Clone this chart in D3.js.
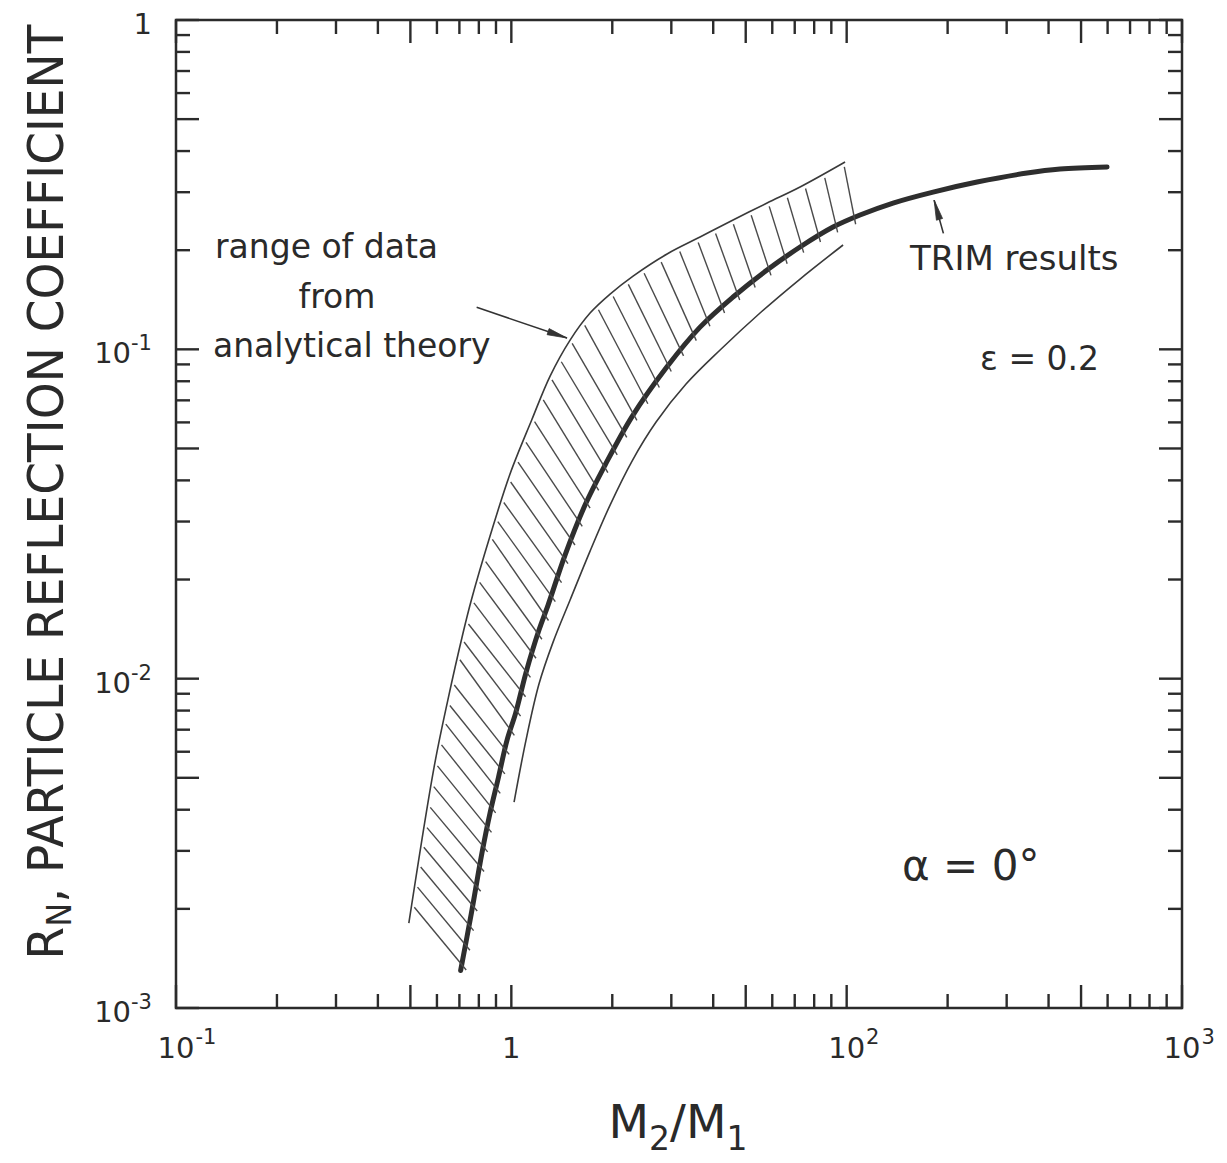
<!DOCTYPE html>
<html>
<head>
<meta charset="utf-8">
<script src="https://cdn.jsdelivr.net/npm/d3@7"></script>
<style>
  body { margin: 0; background: #fff; }
  text { fill: #2a2a2a; }
</style>
</head>
<body>
<svg id="chart" width="1227" height="1163"></svg>
<script>
// TRIM results, M2/M1 vs R_N (thick curve)
const trimX = [0.706, 0.760, 0.817, 0.864, 0.916, 0.971, 1.030, 1.105, 1.209, 1.287, 1.446, 1.659, 1.904,
  2.286, 2.908, 3.654, 4.584, 5.789, 7.261, 9.107, 10.96, 13.75, 18.10, 24.49, 34.51, 43.30, 59.78];
const trimY = [0.00130, 0.00194, 0.00295, 0.00391, 0.00503, 0.00651, 0.00786, 0.0104, 0.01405, 0.01673, 0.02373,
  0.03366, 0.04454, 0.06228, 0.08835, 0.1168, 0.1442, 0.1741, 0.2045, 0.2351, 0.2557, 0.2781, 0.3003, 0.3221,
  0.3430, 0.3527, 0.3577];

// analytical theory, upper edge of the band
const upperX = [0.4947, 0.5884, 0.6466, 0.7178, 0.760, 0.864, 0.991, 1.150, 1.305, 1.497, 1.717,
  1.970, 2.307, 2.914, 3.654, 4.584, 5.789, 7.261, 9.890];
const upperY = [0.00181, 0.00539, 0.00861, 0.01376, 0.01733, 0.02710, 0.04182, 0.0610, 0.08295,
  0.1067, 0.1289, 0.1472, 0.1669, 0.1948, 0.2193, 0.2470, 0.2781, 0.3111, 0.3705];

// analytical theory, lower edge of the band
const lowerX = [1.019, 1.106, 1.209, 1.332, 1.497, 1.717, 1.970, 2.291, 2.702, 3.319, 4.193, 5.516, 7.261, 9.757];
const lowerY = [0.00422, 0.00651, 0.00963, 0.01291, 0.01733, 0.02440, 0.03366, 0.04580, 0.06014, 0.07844,
  0.09952, 0.1289, 0.1635, 0.2074];

// tick labels [base, superscript]
const xTickVals = [0.1, 1, 10, 100];
const xTickLabels = [["10", "-1"], ["1", ""], ["10", "2"], ["10", "3"]];
const yTickVals = [1, 0.1, 0.01, 0.001];
const yTickLabels = [["1", ""], ["10", "-1"], ["10", "-2"], ["10", "-3"]];

// annotation arrows (data coords, tail -> tip)
const theoryArrow = [[0.788, 0.1341], [1.466, 0.1082]];
const trimArrow = [[19.43, 0.2250], [18.23, 0.2839]];

const svg = d3.select("#chart");
const W = 1227, H = 1163;
const m = { left: 176, right: 45, top: 20, bottom: 155 };

const x = d3.scaleLog().domain([0.1, 100]).range([m.left, W - m.right]);
const y = d3.scaleLog().domain([0.001, 1]).range([H - m.bottom, m.top]);

const ink = "#2b2b2b";
const font = "'DejaVu Sans', 'Liberation Sans', sans-serif";

// frame
svg.append("rect")
  .attr("x", x(0.1)).attr("y", y(1))
  .attr("width", x(100) - x(0.1)).attr("height", y(0.001) - y(1))
  .attr("fill", "none").attr("stroke", ink).attr("stroke-width", 2.5);

// ticks, all pointing inward, long at 1 and 5
const mant = v => Math.round(v / Math.pow(10, Math.floor(Math.log10(v) + 1e-9)));
const tickLen = v => (mant(v) === 1 || mant(v) === 5) ? 23 : 14;
const ticks = svg.append("g").attr("stroke", ink).attr("stroke-width", 2.4);

x.ticks().forEach(v => {
  ticks.append("line").attr("x1", x(v)).attr("x2", x(v))
    .attr("y1", y(0.001)).attr("y2", y(0.001) - tickLen(v));
  ticks.append("line").attr("x1", x(v)).attr("x2", x(v))
    .attr("y1", y(1)).attr("y2", y(1) + tickLen(v));
});
y.ticks().forEach(v => {
  ticks.append("line").attr("y1", y(v)).attr("y2", y(v))
    .attr("x1", x(0.1)).attr("x2", x(0.1) + tickLen(v));
  ticks.append("line").attr("y1", y(v)).attr("y2", y(v))
    .attr("x1", x(100)).attr("x2", x(100) - tickLen(v));
});

// tick labels
const lblSize = 29, supSize = 21;
yTickVals.forEach((v, i) => {
  const [b, s] = yTickLabels[i];
  const t = svg.append("text").attr("font-family", font).attr("font-size", lblSize)
    .attr("x", 152).attr("y", y(v) + 14).attr("text-anchor", "end");
  if (s) {
    t.append("tspan").text(b);
    t.append("tspan").attr("font-size", supSize).attr("dy", -13).text(s);
  } else {
    t.text(b);
  }
});
xTickVals.forEach((v, i) => {
  const [b, s] = xTickLabels[i];
  const base = svg.append("text").attr("font-family", font).attr("font-size", lblSize)
    .attr("x", x(v)).attr("y", 1058).attr("text-anchor", "middle").text(b);
  if (s) {
    const bw = base.node().getComputedTextLength();
    svg.append("text").attr("font-family", font).attr("font-size", supSize)
      .attr("x", x(v) + bw / 2 + 1).attr("y", 1044).text(s);
  }
});

// axis titles
const xt = svg.append("text").attr("font-family", font).attr("font-size", 47)
  .attr("x", 678).attr("y", 1138).attr("text-anchor", "middle");
xt.append("tspan").text("M");
xt.append("tspan").attr("font-size", 33).attr("dy", 12).text("2");
xt.append("tspan").attr("dy", -12).text("/M");
xt.append("tspan").attr("font-size", 33).attr("dy", 12).text("1");

const yt = svg.append("text").attr("font-family", font).attr("font-size", 50)
  .attr("transform", "translate(63,492) rotate(-90)").attr("text-anchor", "middle");
yt.append("tspan").text("R");
yt.append("tspan").attr("font-size", 34).attr("dy", 8).text("N");
yt.append("tspan").attr("dy", -8).text(", PARTICLE REFLECTION COEFFICIENT");
const ytLen = yt.node().getComputedTextLength();
yt.attr("transform", `translate(63,492) rotate(-90) scale(${935 / ytLen},1)`);

// curves
const toPts = (xs, ys) => xs.map((v, i) => [v, ys[i]]);
const line = d3.line().x(d => x(d[0])).y(d => y(d[1])).curve(d3.curveCatmullRom.alpha(0.5));

const upperPath = svg.append("path").datum(toPts(upperX, upperY)).attr("d", line)
  .attr("fill", "none").attr("stroke", "#3a3a3a").attr("stroke-width", 1.6);
svg.append("path").datum(toPts(lowerX, lowerY)).attr("d", line)
  .attr("fill", "none").attr("stroke", "#3a3a3a").attr("stroke-width", 1.6);

const trimPath = svg.append("path").datum(toPts(trimX, trimY)).attr("d", line)
  .attr("fill", "none").attr("stroke", "#2e2e2e").attr("stroke-width", 5)
  .attr("stroke-linecap", "round");

// hatching between upper edge and TRIM curve
function sample(node, step) {
  const L = node.getTotalLength(), out = [];
  for (let s = 0; s <= L; s += step) {
    const p = node.getPointAtLength(s);
    out.push([p.x, p.y]);
  }
  return out;
}
const up = sample(upperPath.node(), 2);
// extend lower end of the upper edge a little for the bottom hatches
const a0 = up[0], a1 = up[3];
up.unshift([a0[0] + (a0[0] - a1[0]) * 15, a0[1] + (a0[1] - a1[1]) * 15]);

function rayHit(p, d) {
  let best = null;
  for (let i = 0; i < up.length - 1; i++) {
    const a = up[i], b = up[i + 1];
    const ex = b[0] - a[0], ey = b[1] - a[1];
    const den = d[0] * ey - d[1] * ex;
    if (Math.abs(den) < 1e-9) continue;
    const wx = a[0] - p[0], wy = a[1] - p[1];
    const t = (wx * ey - wy * ex) / den;
    const u = (wx * d[1] - wy * d[0]) / den;
    if (t > 0 && u >= 0 && u <= 1 && (best === null || t < best)) best = t;
  }
  return best;
}

const tn = trimPath.node(), tL = tn.getTotalLength();
const hatch = svg.append("g").attr("stroke", "#4a4a4a").attr("stroke-width", 1.4);
for (let s = 6; s < tL; s += 20) {
  const p = tn.getPointAtLength(s);
  const p1 = tn.getPointAtLength(Math.max(0, s - 3)), p2 = tn.getPointAtLength(Math.min(tL, s + 3));
  const phi = Math.atan2(-(p2.y - p1.y), p2.x - p1.x);
  const th = Math.PI / 2 + phi / 2;
  const d = [Math.cos(th), -Math.sin(th)];
  const t = rayHit([p.x, p.y], d);
  if (t === null || t - 4 < 3) continue;
  hatch.append("line")
    .attr("x1", p.x - d[0] * 7).attr("y1", p.y - d[1] * 7)
    .attr("x2", p.x + d[0] * (t - 4)).attr("y2", p.y + d[1] * (t - 4));
}

// arrows
function arrow(pts) {
  const [a, b] = pts.map(q => [x(q[0]), y(q[1])]);
  const ang = Math.atan2(b[1] - a[1], b[0] - a[0]);
  const g = svg.append("g").attr("fill", "#333").attr("stroke", "#333");
  g.append("line").attr("x1", a[0]).attr("y1", a[1]).attr("x2", b[0]).attr("y2", b[1])
    .attr("stroke-width", 1.6);
  const len = 20, hw = 3.2;
  const bx = b[0] - Math.cos(ang) * len, by = b[1] - Math.sin(ang) * len;
  const nx = -Math.sin(ang) * hw, ny = Math.cos(ang) * hw;
  g.append("path").attr("stroke-width", 0.8)
    .attr("d", `M${b[0]},${b[1]}L${bx + nx},${by + ny}L${bx - nx},${by - ny}Z`);
}
arrow(theoryArrow);
arrow(trimArrow);

// annotation text
const note = (txt, xv, yv, size, anchor) => svg.append("text").attr("font-family", font)
  .attr("font-size", size).attr("x", x(xv)).attr("y", y(yv))
  .attr("text-anchor", anchor || "start").text(txt);
note("range of data", 0.1307, 0.1893, 33);
note("from", 0.302, 0.1335, 33, "middle");
note("analytical theory", 0.1289, 0.0947, 33);
note("TRIM results", 15.45, 0.1741, 34);
note("\u03b5 = 0.2", 25.0, 0.0865, 33);
note("\u03b1 = 0\u00b0", 14.63, 0.002446, 42);
</script>
</body>
</html>
